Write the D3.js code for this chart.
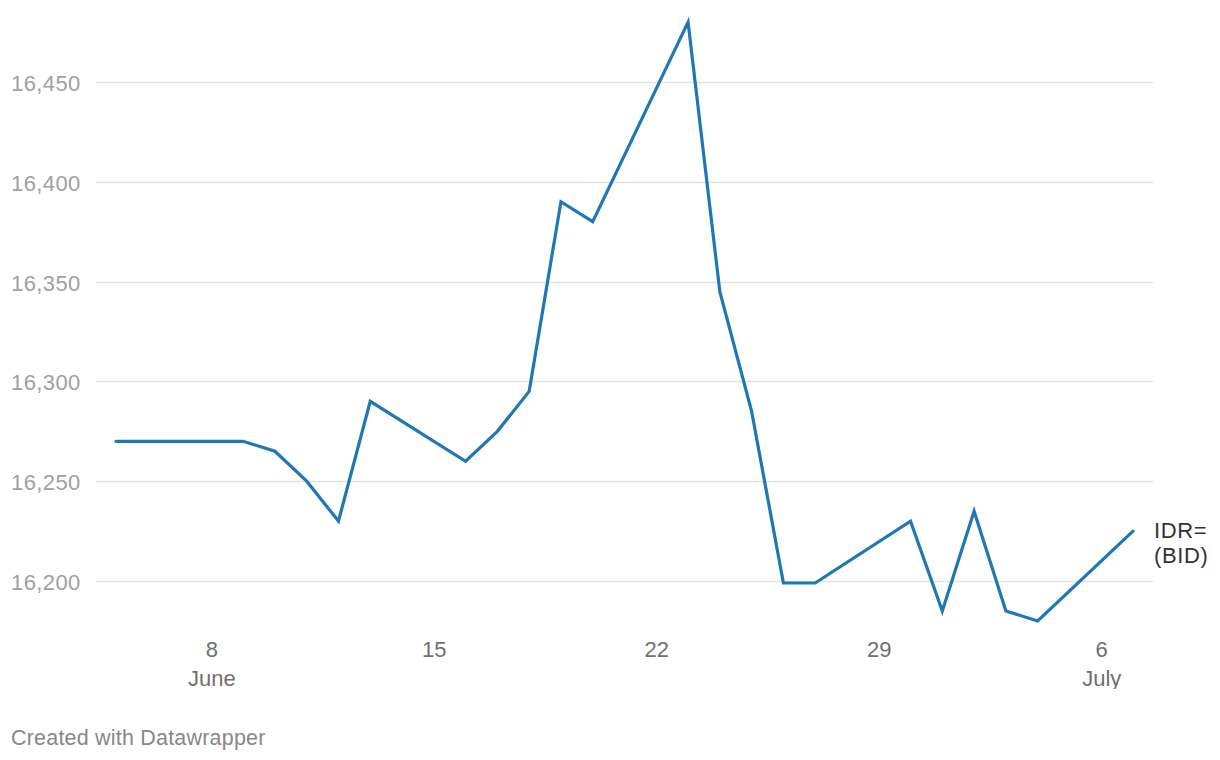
<!DOCTYPE html>
<html>
<head>
<meta charset="utf-8">
<script src="https://cdn.jsdelivr.net/npm/d3@7"></script>
<style>
  html, body { margin: 0; padding: 0; background: #fff; }
  svg { display: block; }
  text { font-family: "Helvetica Neue", Helvetica, "Liberation Sans", Arial, sans-serif; }
</style>
</head>
<body>
<svg id="chart" width="1220" height="760"></svg>
<script>
const dates = ["2025-06-05","2025-06-06","2025-06-09","2025-06-10","2025-06-11","2025-06-12","2025-06-13",
  "2025-06-16","2025-06-17","2025-06-18","2025-06-19","2025-06-20",
  "2025-06-23","2025-06-24","2025-06-25","2025-06-26","2025-06-27",
  "2025-06-30","2025-07-01","2025-07-02","2025-07-03","2025-07-04","2025-07-07"];
const values = [16270,16270,16270,16265,16250,16230,16290,
  16260,16275,16295,16390,16380,
  16480,16345,16285,16199,16199,
  16230,16185,16235,16185,16180,16225];
const yTicks = [16200,16250,16300,16350,16400,16450];
const xTickDates = ["2025-06-08","2025-06-15","2025-06-22","2025-06-29","2025-07-06"];
const xTickDays = ["8","15","22","29","6"];
const xTickMonths = ["June","","","","July"];
const seriesLabel = ["IDR=","(BID)"];
const footer = "Created with Datawrapper";

const parse = d3.timeParse("%Y-%m-%d");
const data = dates.map((d, i) => ({ date: parse(d), value: values[i] }));

const svg = d3.select("#chart");
const x = d3.scaleTime()
  .domain(d3.extent(data, d => d.date))
  .range([116, 1133]);
const y = d3.scaleLinear()
  .domain([16200, 16450])
  .range([581, 82]);

// gridlines + y labels
const gy = svg.append("g");
gy.selectAll("line.grid").data(yTicks).join("line")
  .attr("class", "grid")
  .attr("x1", 96).attr("x2", 1153)
  .attr("y1", d => Math.round(y(d)) + 0.5).attr("y2", d => Math.round(y(d)) + 0.5)
  .attr("stroke", "#e3e3e3").attr("stroke-width", 1.4);
gy.selectAll("text.ylab").data(yTicks).join("text")
  .attr("class", "ylab")
  .attr("x", 11).attr("y", d => y(d) + 9)
  .attr("fill", "#a0a0a0")
  .attr("font-size", 22)
  .attr("letter-spacing", 0.4)
  .text(d => d3.format(",")(d));

// x axis labels
svg.append("defs").append("clipPath").attr("id", "clipX")
  .append("rect").attr("x", 0).attr("y", -40).attr("width", 1220).attr("height", 52);
const xAxis = d3.axisBottom(x)
  .tickValues(xTickDates.map(parse))
  .tickSize(0)
  .tickFormat((d, i) => xTickDays[i]);
const gx = svg.append("g")
  .attr("transform", "translate(0,677)")
  .attr("clip-path", "url(#clipX)")
  .call(xAxis);
gx.select(".domain").remove();
gx.selectAll(".tick text")
  .attr("font-size", 22)
  .attr("font-family", "\"Helvetica Neue\", Helvetica, \"Liberation Sans\", Arial, sans-serif")
  .attr("fill", "#707070")
  .attr("y", -20).attr("dy", null);
gx.selectAll(".tick").append("text")
  .attr("font-size", 22)
  .attr("text-anchor", "middle")
  .attr("fill", "#707070")
  .attr("y", 9)
  .text((d, i) => xTickMonths[i]);

// line
const line = d3.line().x(d => x(d.date)).y(d => y(d.value));
svg.append("path")
  .datum(data)
  .attr("d", line)
  .attr("fill", "none")
  .attr("stroke", "#1f77b4")
  .attr("stroke-width", 3.2)
  .attr("stroke-linejoin", "miter")
  .attr("stroke-linecap", "round");

// series label
const last = data[data.length - 1];
const lab = svg.append("text")
  .attr("font-size", 22)
  .attr("letter-spacing", 0.6)
  .attr("fill", "#333");
lab.selectAll("tspan").data(seriesLabel).join("tspan")
  .attr("x", 1154)
  .attr("y", (d, i) => y(last.value) + 7 + i * 25)
  .text(d => d);

// footer
svg.append("text")
  .attr("x", 11).attr("y", 745)
  .attr("font-size", 21.5)
  .attr("letter-spacing", 0.2)
  .attr("fill", "#888")
  .text(footer);
</script>
</body>
</html>
